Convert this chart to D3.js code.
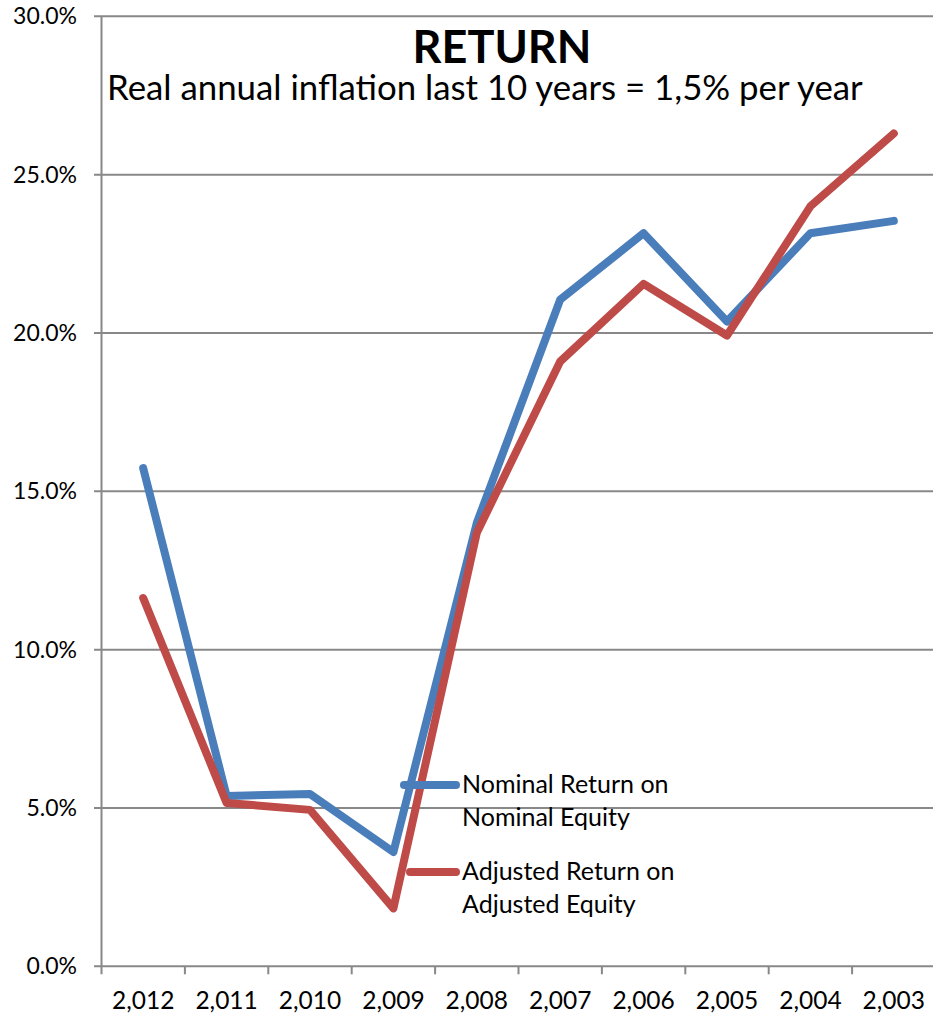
<!DOCTYPE html>
<html>
<head>
<meta charset="utf-8">
<script src="https://cdn.jsdelivr.net/npm/d3@7"></script>
<style>
  body { margin: 0; background: #fff; }
  svg { display: block; font-family: Lato, "Open Sans", sans-serif; }
</style>
</head>
<body>
<script>
(function(){

//data
var years = ["2,012", "2,011", "2,010", "2,009", "2,008", "2,007", "2,006", "2,005", "2,004", "2,003"];
var nominal = [15.73, 5.38, 5.44, 3.61, 14.0, 21.05, 23.15, 20.36, 23.15, 23.54];
var adjusted = [11.63, 5.16, 4.94, 1.83, 13.69, 19.1, 21.55, 19.92, 24.0, 26.3];
var yTicks = [0, 5, 10, 15, 20, 25, 30];
var seriesNames = [["Nominal Return on", "Nominal Equity"], ["Adjusted Return on", "Adjusted Equity"]];
var colors = ["#4a7ebb", "#be4b48"];

window.onload = setChart();

function setChart(){

    var width = 933,
        height = 1016;

    var svg = d3.select("body")
        .append("svg")
        .attr("width", width)
        .attr("height", height);

    var x = d3.scaleBand()
        .domain(years)
        .range([101.5, 935.5]);

    var y = d3.scaleLinear()
        .domain([0, 30])
        .range([966.3, 16.3]);

    //gridlines + left ticks
    svg.append("g")
        .selectAll("line")
        .data(yTicks)
        .enter()
        .append("line")
        .attr("x1", 94)
        .attr("x2", width)
        .attr("y1", function(d){ return y(d); })
        .attr("y2", function(d){ return y(d); })
        .attr("stroke", "#888")
        .attr("stroke-width", 2);

    //y axis line
    svg.append("line")
        .attr("x1", 101.5).attr("x2", 101.5)
        .attr("y1", y(30)).attr("y2", y(0) + 8)
        .attr("stroke", "#888")
        .attr("stroke-width", 2);

    //x ticks between categories
    var edges = years.map(function(d){ return x(d); });
    svg.append("g")
        .selectAll("line")
        .data(edges.slice(1))
        .enter()
        .append("line")
        .attr("x1", function(d){ return d; })
        .attr("x2", function(d){ return d; })
        .attr("y1", y(0))
        .attr("y2", y(0) + 8)
        .attr("stroke", "#888")
        .attr("stroke-width", 2);

    //y labels
    svg.append("g")
        .selectAll("text")
        .data(yTicks)
        .enter()
        .append("text")
        .attr("x", 77)
        .attr("y", function(d){ return y(d) + 8; })
        .attr("text-anchor", "end")
        .style("font-size", "23px")
        .text(function(d){ return d.toFixed(1) + "%"; });

    //x labels
    svg.append("g")
        .selectAll("text")
        .data(years)
        .enter()
        .append("text")
        .attr("x", function(d){ return x(d) + x.bandwidth() / 2; })
        .attr("y", 1009)
        .attr("text-anchor", "middle")
        .style("font-size", "24.5px")
        .text(function(d){ return d; });

    //series lines
    var line = d3.line()
        .x(function(d, i){ return x(years[i]) + x.bandwidth() / 2; })
        .y(function(d){ return y(d); });

    [nominal, adjusted].forEach(function(s, i){
        svg.append("path")
            .datum(s)
            .attr("d", line)
            .attr("fill", "none")
            .attr("stroke", colors[i])
            .attr("stroke-width", 8)
            .attr("stroke-linecap", "round")
            .attr("stroke-linejoin", "round");
    });

    //title
    svg.append("text")
        .attr("x", 502)
        .attr("y", 63)
        .attr("text-anchor", "middle")
        .style("font-size", "45px")
        .style("font-weight", "bold")
        .text("RETURN");

    svg.append("text")
        .attr("x", 107)
        .attr("y", 100)
        .style("font-size", "34.8px")
        .text("Real annual inflation last 10 years = 1,5% per year");

    //legend
    var legendY = [785, 872];
    var legend = svg.append("g")
        .selectAll("g")
        .data(seriesNames)
        .enter()
        .append("g");

    legend.append("line")
        .attr("x1", function(d, i){ return i === 0 ? 404 : 410; })
        .attr("x2", 456)
        .attr("y1", function(d, i){ return legendY[i]; })
        .attr("y2", function(d, i){ return legendY[i]; })
        .attr("stroke", function(d, i){ return colors[i]; })
        .attr("stroke-width", 8)
        .attr("stroke-linecap", "round");

    legend.each(function(d, i){
        var g = d3.select(this);
        d.forEach(function(t, j){
            g.append("text")
                .attr("x", 462)
                .attr("y", legendY[i] + 8 + j * 33)
                .style("font-size", "25px")
                .text(t);
        });
    });
};

})();
</script>
</body>
</html>
